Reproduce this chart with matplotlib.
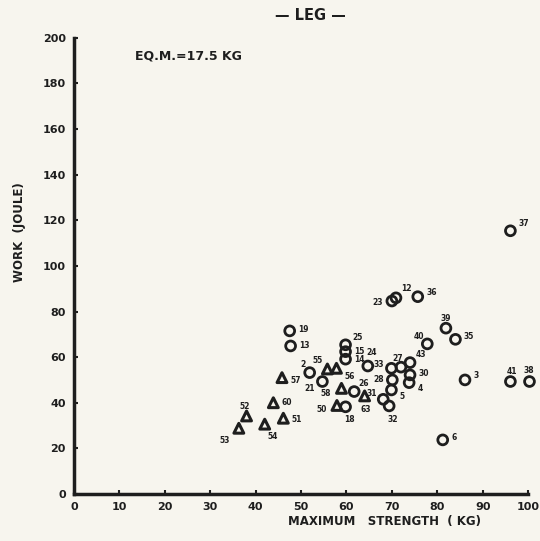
import matplotlib
matplotlib.use('Agg')
import matplotlib.pyplot as plt

# Subject numbers, maximum strength (kg) and work (joule)
circle_ids = ['2', '3', '4', '5', '6', '12', '13', '14', '15', '18', '19', '21',
              '23', '24', '25', '26', '27', '28', '30', '31', '32', '33', '35',
              '36', '37', '38', '39', '40', '41', '43']
circle_x = [51.9, 86.1, 73.8, 69.9, 81.2, 70.9, 47.7, 59.8, 59.8, 59.8, 47.5, 54.7,
            70.0, 64.7, 59.8, 61.7, 72.0, 70.1, 74.0, 68.1, 69.4, 69.9, 84.0,
            75.7, 96.1, 100.3, 81.9, 77.8, 96.1, 74.0]
circle_y = [53.2, 50.0, 48.8, 45.6, 23.7, 86.0, 64.9, 59.1, 62.4, 38.2, 71.5, 49.3,
            84.6, 56.1, 65.4, 44.9, 55.6, 50.0, 52.2, 41.5, 38.6, 55.1, 67.8,
            86.5, 115.4, 49.3, 72.7, 65.8, 49.3, 57.6]

tri_ids = ['50', '51', '52', '53', '54', '55', '56', '57', '58', '60', '63']
tri_x = [57.9, 46.1, 38.0, 36.3, 42.0, 55.8, 57.8, 45.8, 58.9, 43.9, 64.0]
tri_y = [38.8, 33.2, 34.2, 28.8, 30.6, 54.8, 55.1, 51.0, 46.3, 40.0, 43.0]

# label offsets in points (text placement only)
offsets = {
    '2': (-7, 6), '3': (6, 3), '4': (6, -4), '5': (6, -5), '6': (6, 2),
    '12': (4, 7), '13': (6, 0), '14': (6, 0), '15': (6, 0), '18': (-1, -9),
    '19': (6, 1), '21': (-13, -5), '23': (-14, -1), '24': (-1, 10), '25': (5, 5),
    '26': (3, 6), '27': (-6, 6), '28': (-14, 0), '30': (6, 1), '31': (-12, 4),
    '32': (-1, -10), '33': (-13, 3), '35': (6, 2), '36': (6, 3), '37': (6, 5),
    '38': (-4, 8), '39': (-4, 7), '40': (-10, 5), '41': (-3, 7), '43': (4, 6),
    '50': (-15, -3), '51': (6, -1), '52': (-5, 7), '53': (-14, -9), '54': (2, -9),
    '55': (-11, 6), '56': (6, -6), '57': (6, -2), '58': (-15, -4), '60': (6, 0),
    '63': (-3, -10),
}

ink = '#1e1e1e'
paper = '#f7f5ee'
plt.rcParams['font.family'] = ['DejaVu Sans']
plt.rcParams['font.weight'] = 'bold'

fig = plt.figure(figsize=(5.4, 5.41), dpi=100, facecolor=paper)
ax = fig.add_axes([0.137, 0.087, 0.841, 0.843])
ax.set_facecolor(paper)

ax.scatter(circle_x, circle_y, s=50, marker='o', facecolors='none',
           edgecolors=ink, linewidths=2.0, zorder=3, clip_on=False)
ax.scatter(tri_x, tri_y, s=50, marker='^', facecolors='none',
           edgecolors=ink, linewidths=2.2, zorder=3, clip_on=False)

for ids, xs, ys in [(circle_ids, circle_x, circle_y), (tri_ids, tri_x, tri_y)]:
    for lab, x, y in zip(ids, xs, ys):
        dx, dy = offsets[lab]
        ax.annotate(lab, (x, y), xytext=(dx, dy), textcoords='offset points',
                    fontsize=5.5, fontweight='bold', color=ink,
                    ha='left', va='center', annotation_clip=False)

ax.set_xlim(0, 100)
ax.set_ylim(0, 200)
ax.set_xticks(range(0, 101, 10))
ax.set_yticks(range(0, 201, 20))
ax.tick_params(direction='in', length=3, width=1.5, colors=ink,
               labelsize=8, pad=6)
for lab in ax.get_xticklabels() + ax.get_yticklabels():
    lab.set_fontweight('bold')

for side in ['top', 'right']:
    ax.spines[side].set_visible(False)
for side in ['left', 'bottom']:
    ax.spines[side].set_linewidth(2.5)
    ax.spines[side].set_color(ink)

ax.text(13.5, 192, 'EQ.M.=17.5 KG', fontsize=9, fontweight='bold',
        color=ink, va='center')
fig.text(310 / 540, 1 - 16 / 541, '\u2014 LEG \u2014', fontsize=10.5,
         fontweight='bold', color=ink, ha='center', va='center')
fig.text(385 / 540, 1 - 522 / 541, 'MAXIMUM   STRENGTH  ( KG)', fontsize=8.5,
         fontweight='bold', color=ink, ha='center', va='center')
fig.text(20 / 540, 1 - 232 / 541, 'WORK  (JOULE)', fontsize=8.5,
         fontweight='bold', color=ink, ha='center', va='center', rotation=90)

fig.savefig('out.png', dpi=100, facecolor=paper)
